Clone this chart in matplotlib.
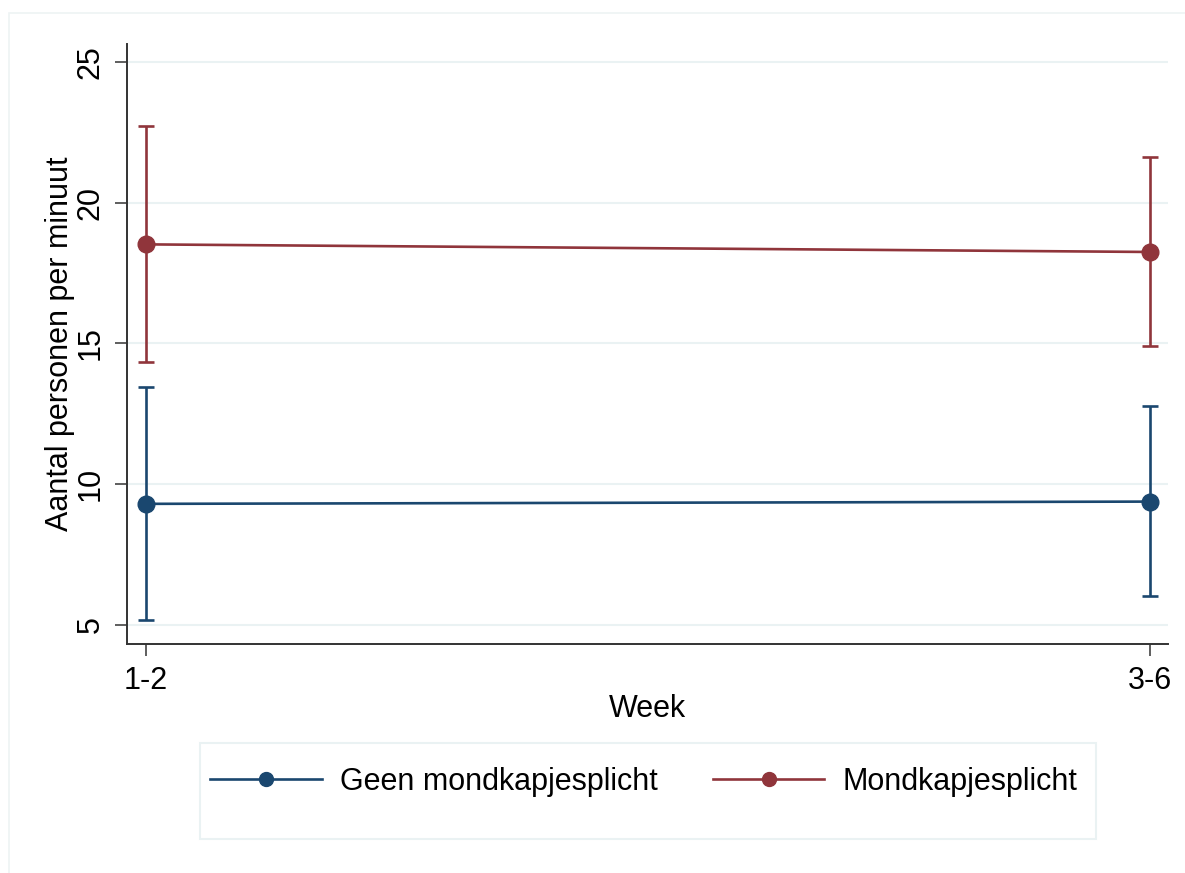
import matplotlib
matplotlib.use("Agg")
import matplotlib.pyplot as plt
from matplotlib.lines import Line2D
from matplotlib.patches import Rectangle

plt.rcParams['font.family'] = ['Liberation Sans', 'DejaVu Sans']

weeks = ["1-2", "3-6"]
series = ["Geen mondkapjesplicht", "Mondkapjesplicht"]
geen_mean = [9.30, 9.38]
geen_lo = [5.18, 6.01]
geen_hi = [13.44, 12.79]
mond_mean = [18.52, 18.25]
mond_lo = [14.34, 14.91]
mond_hi = [22.74, 21.63]
yticks = [5, 10, 15, 20, 25]

navy = "#1a476f"
maroon = "#90353b"
grid = "#eaf2f3"

W, H = 1185, 873
fig = plt.figure(figsize=(W / 100, H / 100), dpi=100)
fig.patch.set_facecolor("white")

# faint outer frame of the graph region
fig.add_artist(Rectangle((9 / W, -0.01), 1.2, 1 - 13 / H + 0.01, transform=fig.transFigure,
                         fill=False, edgecolor="#eef3f4", lw=1.2))

ax = fig.add_axes([127 / W, 1 - 644 / H, (1168 - 127) / W, (644 - 44) / H])
x = list(range(len(weeks)))

for mean, lo, hi, col in [(geen_mean, geen_lo, geen_hi, navy),
                          (mond_mean, mond_lo, mond_hi, maroon)]:
    yerr = [[m - l for m, l in zip(mean, lo)], [h - m for h, m in zip(hi, mean)]]
    ax.errorbar(x, mean, yerr=yerr, color=col, lw=1.9, marker="o", ms=12,
                capsize=5.5, capthick=1.9, elinewidth=1.9, zorder=3)

ax.set_xlim(-0.019, 1.018)
ax.set_ylim(4.32, 25.64)
ax.set_xticks(x)
ax.set_xticklabels(weeks)
ax.set_yticks(yticks)
ax.set_yticklabels([str(v) for v in yticks], rotation=90, va="center")
for v in yticks:
    ax.axhline(v, color=grid, lw=1.5, zorder=1)

for s in ["top", "right"]:
    ax.spines[s].set_visible(False)
for s in ["left", "bottom"]:
    ax.spines[s].set_color("#333333")
    ax.spines[s].set_linewidth(1.4)
ax.tick_params(axis="both", length=8.6, width=1.1, color="#333333", labelsize=22, pad=7)

ax.set_xlabel("Week", fontsize=22, labelpad=-1)
ax.set_ylabel("Aantal personen per minuut", fontsize=22, labelpad=0)

# legend box
fig.add_artist(Rectangle((200 / W, 1 - 839 / H), (1096 - 200) / W, (839 - 743) / H,
                         transform=fig.transFigure, fill=False, edgecolor=grid, lw=1.5))
handles = [Line2D([], [], color=navy, lw=1.9, marker="o", ms=10),
           Line2D([], [], color=maroon, lw=1.9, marker="o", ms=10)]
fig.legend(handles, series, loc="center", bbox_to_anchor=(644 / W, 1 - 782 / H),
           ncol=2, frameon=False, fontsize=22, handlelength=3.65, handletextpad=0.6,
           columnspacing=1.8)

fig.savefig("out.png", dpi=100, facecolor="white")
